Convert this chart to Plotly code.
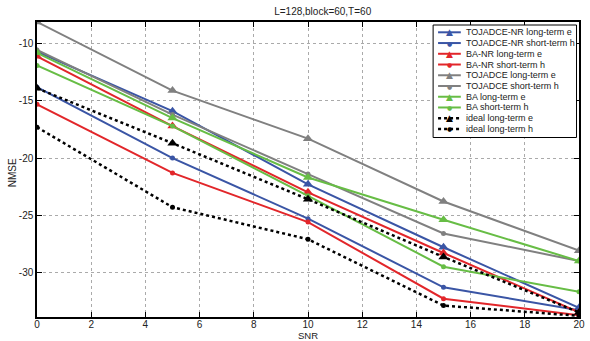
import plotly.graph_objects as go

snr = [0, 5, 10, 15, 20]

names = [
    "TOJADCE-NR long-term e",
    "TOJADCE-NR short-term h",
    "BA-NR long-term e",
    "BA-NR short-term h",
    "TOJADCE long-term e",
    "TOJADCE short-term h",
    "BA long-term e",
    "BA short-term h",
    "ideal long-term e",
    "ideal long-term h",
]

tojadce_nr_e = [-10.7, -15.9, -22.3, -27.8, -33.1]
tojadce_nr_h = [-13.8, -20.0, -25.3, -31.3, -33.3]
ba_nr_e = [-11.1, -17.2, -23.0, -28.3, -33.5]
ba_nr_h = [-15.3, -21.3, -25.6, -32.3, -33.75]
tojadce_e = [-8.1, -14.1, -18.3, -23.8, -28.1]
tojadce_h = [-10.55, -16.2, -21.4, -26.6, -29.0]
ba_e = [-10.8, -16.5, -21.7, -25.4, -29.0]
ba_h = [-11.9, -17.2, -23.3, -29.5, -31.7]
ideal_e = [-13.9, -18.7, -23.6, -28.65, -33.5]
ideal_h = [-17.3, -24.3, -27.1, -32.9, -33.8]

x_ticks = list(range(0, 21, 2))
y_ticks = [-30, -25, -20, -15, -10]
y_tick_labels = ["-30", "-25", "-20", "-15", "-10"]

series = [tojadce_nr_e, tojadce_nr_h, ba_nr_e, ba_nr_h, tojadce_e,
          tojadce_h, ba_e, ba_h, ideal_e, ideal_h]

blue = "#3A55A5"
red = "#E2262A"
gray = "#808080"
green = "#67BD45"
black = "#000000"
colors = [blue, blue, red, red, gray, gray, green, green, black, black]
symbols = ["triangle-up", "circle"] * 5
msizes = [9, 5] * 5
dashes = ["solid"] * 8 + ["dot", "dot"]

W, H = 590, 341
ML, MR, MT, MB = 37, 5, 22, 24
PW, PH = W - ML - MR, H - MT - MB


def px(x):
    return (x - ML) / PW


def py(y):
    return (H - MB - y) / PH


fig = go.Figure()
for nm, ys, c, s, ms, d in zip(names, series, colors, symbols, msizes, dashes):
    fig.add_trace(go.Scatter(
        x=snr, y=ys, name=nm, mode="lines+markers",
        line=dict(color=c, width=2.5 if d == "dot" else 2, dash=d),
        marker=dict(symbol=s, size=ms, color=c),
        showlegend=False,
    ))

axis_common = dict(
    showline=True, linecolor="black", linewidth=1.5, mirror="ticks",
    ticks="inside", ticklen=5, tickcolor="black",
    showgrid=True, gridcolor="#AAAAAA", griddash="dot", gridwidth=1,
    zeroline=False, tickfont=dict(size=10, color="#222"),
)

shapes = []
annotations = []

# custom compact legend (MATLAB style)
lx0, lx1, ly0, ly1 = 437.5, 582.5, 25, 137.5
shapes.append(dict(type="rect", xref="paper", yref="paper",
                   x0=px(lx0), x1=px(lx1), y0=py(ly1), y1=py(ly0),
                   line=dict(color="black", width=1), fillcolor="white",
                   layer="above"))
row0, gap = 32.3, 10.74
for i, (nm, c, s, d) in enumerate(zip(names, colors, symbols, dashes)):
    yc = row0 + i * gap
    shapes.append(dict(type="line", xref="paper", yref="paper",
                       x0=px(442.5), x1=px(465.5), y0=py(yc), y1=py(yc),
                       line=dict(color=c, width=2.5 if d == "dot" else 2, dash=d),
                       layer="above"))
    glyph = "▲" if s == "triangle-up" else "●"
    annotations.append(dict(xref="paper", yref="paper", x=px(454), y=py(yc),
                            text=glyph, showarrow=False, xanchor="center",
                            yanchor="middle",
                            font=dict(size=9 if s == "triangle-up" else 6,
                                      color=c, family="DejaVu Sans")))
    annotations.append(dict(xref="paper", yref="paper", x=px(468.5), y=py(yc),
                            text=nm, showarrow=False, xanchor="left",
                            yanchor="middle", font=dict(size=9, color="#222")))

# axis titles
annotations.append(dict(xref="paper", yref="paper", x=px(311), y=py(335.5),
                        text="SNR", showarrow=False, xanchor="center",
                        yanchor="middle", borderpad=0,
                        font=dict(size=9.5, color="#222")))
annotations.append(dict(xref="paper", yref="paper", x=px(13), y=py(173),
                        text="NMSE", showarrow=False, xanchor="center",
                        yanchor="middle", textangle=-90,
                        font=dict(size=10, color="#222")))

fig.update_layout(
    width=W, height=H,
    margin=dict(l=ML, r=MR, t=MT, b=MB),
    paper_bgcolor="white", plot_bgcolor="white",
    font=dict(family="Liberation Sans, Arial, sans-serif", size=10, color="#222"),
    title=dict(text="L=128,block=60,T=60", x=311 / W,
               xref="paper", xanchor="center",
               y=(H - 11) / H, yanchor="middle", font=dict(size=10)),
    xaxis=dict(range=[0, 20], tickvals=x_ticks, ticklabelstandoff=-3,
               **axis_common),
    yaxis=dict(range=[-33.9, -8.1], tickvals=y_ticks, ticktext=y_tick_labels,
               **axis_common),
    shapes=shapes,
    annotations=annotations,
    showlegend=False,
)

fig.write_html("out.html", config={"displayModeBar": False},
               post_script="document.body.style.margin='0';")
